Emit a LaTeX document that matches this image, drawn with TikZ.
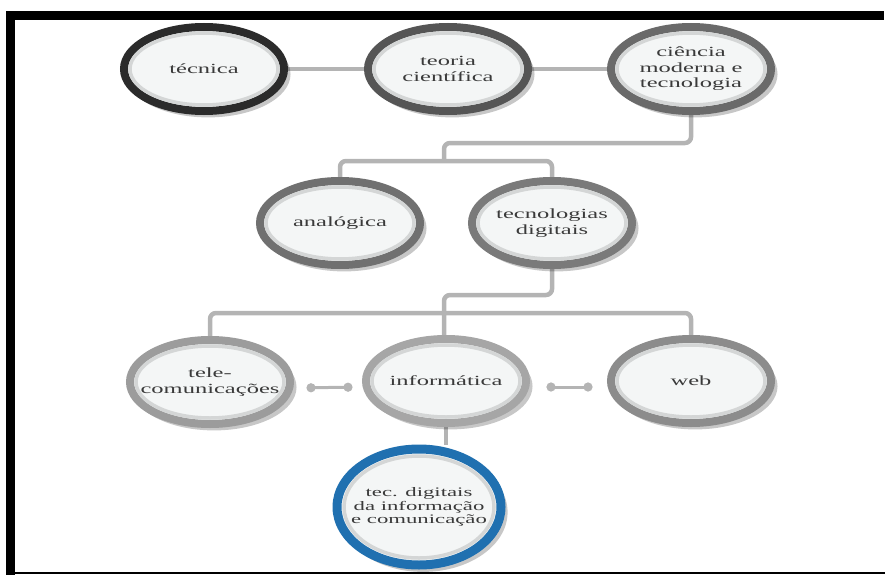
\documentclass[tikz,border=0pt]{standalone}
\usepackage{fontspec}
\setmainfont{Liberation Serif}
\usetikzlibrary{shapes.geometric,arrows.meta,shadows,calc}
\pgfdeclarelayer{bg}
\pgfsetlayers{bg,main}
\definecolor{connc}{HTML}{B4B4B4}
\definecolor{fillc}{HTML}{F4F6F6}
\definecolor{txtc}{HTML}{3A3A3A}
\definecolor{innerc}{HTML}{D4D6D6}
\definecolor{rA}{HTML}{2B2B2B}
\definecolor{rB}{HTML}{555555}
\definecolor{rC}{HTML}{6A6A6A}
\definecolor{rD}{HTML}{707070}
\definecolor{rE}{HTML}{7A7A7A}
\definecolor{rF}{HTML}{9C9C9C}
\definecolor{rG}{HTML}{A6A6A6}
\definecolor{rH}{HTML}{8C8C8C}
\definecolor{rBlue}{HTML}{2070B0}
\newcommand\sx[1]{\scalebox{1.75}[1]{#1}}
\tikzset{
  bub/.style={ellipse, minimum width=160pt, minimum height=84pt, inner sep=0pt,
    line width=8pt, fill=fillc,
    drop shadow={shadow xshift=4pt, shadow yshift=-5pt, shadow scale=1.03, opacity=0.22, fill=black}},
  bigbub/.style={bub, minimum width=164pt, minimum height=116pt, line width=9pt},
  txt/.style={font=\fontsize{14}{15.5}\selectfont, text=txtc, align=center, inner sep=0pt},
  smalltxt/.style={txt, font=\fontsize{13}{13.5}\selectfont},
  link/.style={draw=connc, line width=4.5pt, rounded corners=6pt},
  dumb/.style={draw=connc, line width=3pt, {Circle[length=9pt]}-{Circle[length=9pt]}},
  inring/.style={draw=innerc, line width=3.5pt},
}
\begin{document}
\begin{tikzpicture}[x=1pt, y=-1pt]
\useasboundingbox (0,0) rectangle (885,575);
% frame
\fill[black] (6,11) rectangle (884,20);
\fill[black] (6,11) rectangle (15,575);
\draw[black, line width=1.5pt] (15,573) -- (885,573);

% junction points
\coordinate (j1) at (444,143);
\coordinate (j2) at (444,161);
\coordinate (j3) at (444,295);
\coordinate (j4) at (444,313);

% nodes
\node[bub, draw=rA] (tecnica) at (204,69) {};
\draw[inring] (tecnica.center) ellipse (74pt and 36pt);
\node[txt] (tecnica-t) at (tecnica) {\sx{técnica}};

\node[bub, draw=rB] (teoria) at (448,69) {};
\draw[inring] (teoria.center) ellipse (74pt and 36pt);
\node[txt] (teoria-t) at (teoria) {\sx{teoria}\\\sx{científica}};

\node[bub, draw=rC] (ciencia) at (691,69) {};
\draw[inring] (ciencia.center) ellipse (74pt and 36pt);
\node[txt] (ciencia-t) at (ciencia) {\sx{ciência}\\\sx{moderna e}\\\sx{tecnologia}};

\node[bub, draw=rD] (analogica) at (340,223) {};
\draw[inring] (analogica.center) ellipse (74pt and 36pt);
\node[txt] (analogica-t) at (analogica) {\sx{analógica}};

\node[bub, draw=rE] (tecdig) at (552,223) {};
\draw[inring] (tecdig.center) ellipse (74pt and 36pt);
\node[txt] (tecdig-t) at (tecdig) {\sx{tecnologias}\\\sx{digitais}};

\node[bub, draw=rF] (tele) at (210,382) {};
\draw[inring] (tele.center) ellipse (74pt and 36pt);
\node[txt] (tele-t) at (tele) {\sx{tele-}\\\sx{comunicações}};

\node[bub, draw=rG] (info) at (446,381) {};
\draw[inring] (info.center) ellipse (74pt and 36pt);
\node[txt] (info-t) at (info) {\sx{informática}};

\node[bub, draw=rH] (web) at (691,381) {};
\draw[inring] (web.center) ellipse (74pt and 36pt);
\node[txt] (web-t) at (web) {\sx{web}};

\node[bigbub, draw=rBlue] (ttic) at (419,507) {};
\draw[inring] (ttic.center) ellipse (75pt and 51pt);
\node[smalltxt] (ttic-t) at (ttic) {\sx{tec. digitais}\\\sx{da informação}\\\sx{e comunicação}};

% connectors
\begin{pgfonlayer}{bg}
\draw[link] (tecnica) -- (teoria);
\draw[link] (teoria) -- (ciencia);
\draw[link] (ciencia.south) |- (j1) -- (j2);
\draw[link] (analogica.north) |- (j2) -| (tecdig.north);
\draw[link] (tecdig.south) |- (j3) -- (j3 |- info.north);
\draw[link] (tele.north) |- (j4) -| (web.north);
\draw[link] (info.south) -- (info.south |- ttic.north);
\end{pgfonlayer}

\draw[dumb, shorten <=12.5pt, shorten >=9.5pt] ($(tele.east)+(0,6)$) -- ($(info.west)+(0,6)$);
\draw[dumb, shorten <=16.5pt, shorten >=14.5pt] ($(info.east)+(0,6)$) -- ($(web.west)+(0,6)$);
\end{tikzpicture}
\end{document}
